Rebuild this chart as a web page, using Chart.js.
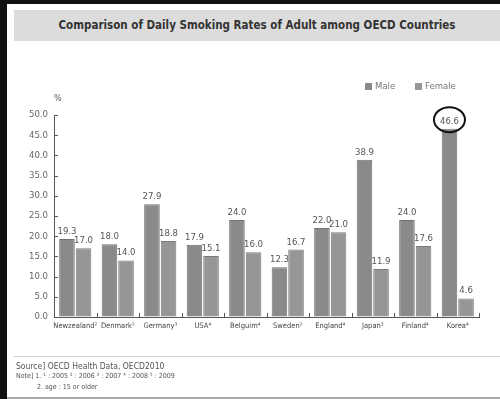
<!DOCTYPE html>
<html>
<head>
<meta charset="utf-8">
<script src="https://cdn.jsdelivr.net/npm/chart.js@4/dist/chart.umd.min.js"></script>
<style>
  html, body { margin: 0; padding: 0; background: #111; }
  #pagina { position: relative; width: 500px; height: 399px; overflow: hidden; background: #111; }
  #painel { position: absolute; left: 7px; top: 4px; width: 493px; height: 395px; background: #fff; }
  #titulo { position: absolute; left: 14px; top: 10px; width: 486px; height: 31px; background: #dcdcdc;
    font: bold 11.5px 'DejaVu Sans Condensed', sans-serif; color: #333;
    text-align: center; line-height: 31px; }
  #grafico { position: absolute; left: 0; top: 80px; }
  .txt { position: absolute; font-family: 'DejaVu Sans Condensed', sans-serif; color: #555; white-space: nowrap;
    -webkit-font-smoothing: antialiased; will-change: transform; }
  .quad { position: absolute; width: 7px; height: 7px; }
  #linha { position: absolute; left: 14px; top: 356px; width: 486px; height: 1px; background: #d0d0d0; }
  #base { position: absolute; left: 7px; top: 397px; width: 493px; height: 2px; background: #aaa; }
</style>
</head>
<body>
<div id="pagina">
  <div id="painel"></div>
  <div id="titulo">Comparison of Daily Smoking Rates of Adult among OECD Countries</div>
  <canvas id="grafico" width="500" height="270"></canvas>
  <div class="txt" style="left:54px;top:93px;font-size:9px;">%</div>
  <div class="quad" id="qMasc" style="left:365px;top:83px;"></div>
  <div class="txt" style="left:375px;top:80px;font-size:9.5px;color:#777;">Male</div>
  <div class="quad" id="qFem" style="left:415px;top:83px;"></div>
  <div class="txt" style="left:425px;top:80px;font-size:9.5px;color:#777;">Female</div>
  <div id="linha"></div>
  <div class="txt" style="left:16px;top:361px;font-size:8.5px;">Source] OECD Health Data, OECD2010</div>
  <div class="txt" style="left:16px;top:372px;font-size:7px;">Note] 1. ¹ : 2005  ² : 2006  ³ : 2007  ⁴ : 2008  ⁵ : 2009</div>
  <div class="txt" style="left:37px;top:383px;font-size:7px;">2. age : 15 or older</div>
  <div id="base"></div>
</div>
<script>
const paises = ['Newzealand²', 'Denmark²', 'Germany³', 'USA⁴', 'Belguim⁴', 'Sweden²', 'England⁴', 'Japan³', 'Finland⁴', 'Korea⁴'];
const taxasMasculino = [19.3, 18.0, 27.9, 17.9, 24.0, 12.3, 22.0, 38.9, 24.0, 46.6];
const taxasFeminino = [17.0, 14.0, 18.8, 15.1, 16.0, 16.7, 21.0, 11.9, 17.6, 4.6];
const ticksEixoY = [0, 5, 10, 15, 20, 25, 30, 35, 40, 45, 50];

const corMasculino = '#8a8a8a';
const corFeminino = '#969696';
const fonte = "'DejaVu Sans Condensed', sans-serif";

document.getElementById('qMasc').style.background = corMasculino;
document.getElementById('qFem').style.background = corFeminino;

// marcas internas dos eixos, valores em cima das barras e o circulo da Coreia
const marcasPlugin = {
    id: 'marcas',
    afterDraw(chart) {
        const ctx = chart.ctx;
        const x = chart.scales.x;
        const y = chart.scales.y;
        ctx.save();
        ctx.strokeStyle = '#555';
        ctx.lineWidth = 1;
        ticksEixoY.forEach((v) => {
            const py = Math.round(y.getPixelForValue(v)) + 0.5;
            ctx.beginPath();
            ctx.moveTo(x.left, py);
            ctx.lineTo(x.left + 4, py);
            ctx.stroke();
        });
        for (let i = 1; i <= paises.length; i++) {
            const px = Math.round(x.getPixelForValue(i - 0.5)) + 0.5;
            ctx.beginPath();
            ctx.moveTo(px, y.bottom);
            ctx.lineTo(px, y.bottom - 4);
            ctx.stroke();
        }

        ctx.fillStyle = '#555';
        ctx.font = `9.5px ${fonte}`;
        ctx.textAlign = 'center';
        ctx.textBaseline = 'alphabetic';
        chart.data.datasets.forEach((ds, di) => {
            chart.getDatasetMeta(di).data.forEach((barra, i) => {
                ctx.fillText(ds.data[i].toFixed(1), barra.x, barra.y - 5);
            });
        });

        const korea = chart.getDatasetMeta(0).data[paises.length - 1];
        ctx.strokeStyle = '#111';
        ctx.lineWidth = 2;
        ctx.beginPath();
        ctx.ellipse(korea.x, korea.y - 9, 15.5, 12.5, 0, 0, Math.PI * 2);
        ctx.stroke();
        ctx.restore();
    }
};

let data = {
    labels: paises,
    datasets: [
        {
            label: 'Male',
            data: taxasMasculino,
            backgroundColor: corMasculino,
            borderColor: '#707070',
            borderWidth: 1
        },
        {
            label: 'Female',
            data: taxasFeminino,
            backgroundColor: corFeminino,
            borderColor: '#7a7a7a',
            borderWidth: 1
        }
    ]
};

let options = {
    responsive: false,
    animation: false,
    categoryPercentage: 0.78,
    barPercentage: 0.94,
    layout: {
        padding: { top: 35, right: 21, left: 0, bottom: 0 }
    },
    scales: {
        x: {
            afterFit: (scale) => { scale.height = 33; },
            grid: { drawOnChartArea: false, drawTicks: false },
            border: { display: true, color: '#555', width: 1 },
            ticks: {
                padding: 5,
                color: '#444',
                font: { family: fonte, size: 7.5 },
                maxRotation: 0,
                autoSkip: false
            }
        },
        y: {
            min: 0,
            max: 50,
            afterFit: (scale) => { scale.width = 54; },
            afterBuildTicks: (scale) => { scale.ticks = ticksEixoY.map((v) => ({ value: v })); },
            grid: { drawOnChartArea: false, drawTicks: false },
            border: { display: true, color: '#555', width: 1 },
            ticks: {
                padding: 6,
                color: '#666',
                font: { family: fonte, size: 9.5 },
                callback: (v) => Number(v).toFixed(1)
            }
        }
    },
    plugins: {
        legend: { display: false },
        tooltip: { enabled: false }
    }
};

new Chart(document.getElementById('grafico'), {
    type: 'bar',
    data: data,
    options: options,
    plugins: [marcasPlugin]
});
</script>
</body>
</html>
